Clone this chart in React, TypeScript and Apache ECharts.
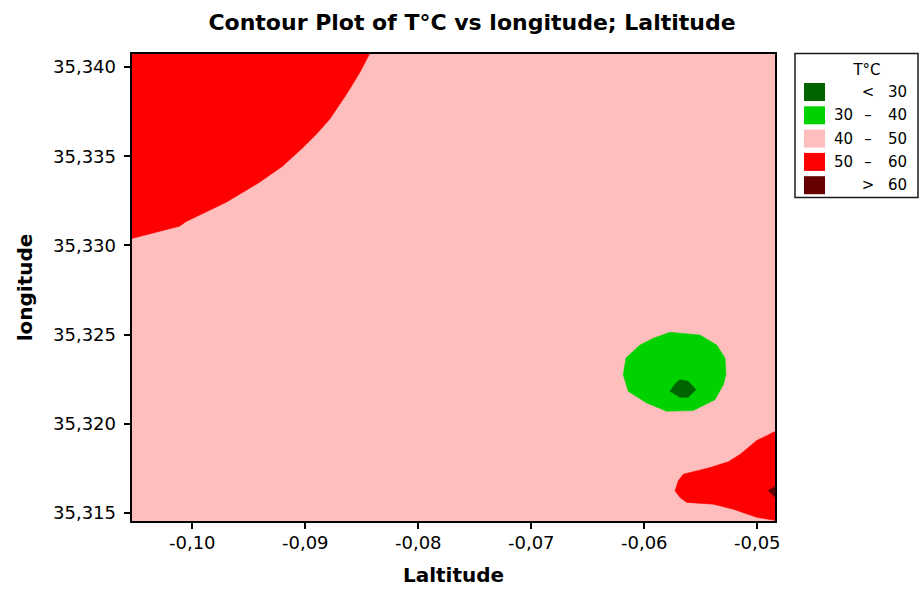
import React, { useEffect, useRef } from "react";
import * as echarts from "echarts";

// Axis extents (data units)
const xRange = [-0.10542, -0.04834];
const yRange = [35.31448, 35.34078];
const xTicks = [-0.1, -0.09, -0.08, -0.07, -0.06, -0.05];
const yTicks = [35.315, 35.32, 35.325, 35.33, 35.335, 35.34];

// Contour level colours and legend labels
const levelColors = ["#006400", "#00d200", "#ffbebe", "#ff0000", "#660000"];
const levelLabels = [
  ["", "<", "30"],
  ["30", "–", "40"],
  ["40", "–", "50"],
  ["50", "–", "60"],
  ["", ">", "60"],
];

// Contour regions: [Laltitude, longitude]
const redTopLeft = [
  [-0.1060, 35.3415],
  [-0.1060, 35.33027],
  [-0.10112, 35.33107],
  [-0.10053, 35.33133],
  [-0.09699, 35.33241],
  [-0.09404, 35.33353],
  [-0.09198, 35.33445],
  [-0.0902, 35.33548],
  [-0.08902, 35.33622],
  [-0.08784, 35.33706],
  [-0.08636, 35.33845],
  [-0.08518, 35.33967],
  [-0.0843, 35.34074],
  [-0.0840, 35.3415],
];
const greenBlob = [
  [-0.05773, 35.32512],
  [-0.05507, 35.32497],
  [-0.05359, 35.32441],
  [-0.05285, 35.32367],
  [-0.05277, 35.32274],
  [-0.053, 35.32218],
  [-0.05374, 35.32134],
  [-0.05566, 35.32073],
  [-0.05802, 35.32069],
  [-0.05979, 35.32116],
  [-0.06142, 35.32181],
  [-0.06186, 35.32274],
  [-0.06162, 35.32367],
  [-0.06038, 35.32441],
  [-0.0592, 35.32478],
];
const darkGreenBlob = [
  [-0.05684, 35.32246],
  [-0.05611, 35.32237],
  [-0.05542, 35.3219],
  [-0.05611, 35.32147],
  [-0.05684, 35.32147],
  [-0.05773, 35.32181],
  [-0.05728, 35.32222],
];
const redBottomRight = [
  [-0.0478, 35.31975],
  [-0.05005, 35.31905],
  [-0.05153, 35.31827],
  [-0.05256, 35.31786],
  [-0.05418, 35.31753],
  [-0.05655, 35.31716],
  [-0.05699, 35.31679],
  [-0.05728, 35.31623],
  [-0.05684, 35.31586],
  [-0.05625, 35.31558],
  [-0.05389, 35.31548],
  [-0.05212, 35.3152],
  [-0.05005, 35.31474],
  [-0.0478, 35.31450],
];
const darkRedBlob = [
  [-0.0478, 35.31679],
  [-0.04902, 35.31623],
  [-0.0478, 35.31548],
];

const FONT = "DejaVu Sans";

function regionSeries(points: number[][], color: string, z: number) {
  return {
    type: "custom",
    coordinateSystem: "cartesian2d",
    xAxisIndex: 0,
    yAxisIndex: 0,
    clip: true,
    silent: true,
    z,
    data: points,
    renderItem: (params: any, api: any) => {
      if (params.dataIndex !== 0) return null;
      const pts = points.map((p) => api.coord(p));
      return {
        type: "polygon",
        shape: { points: pts },
        style: { fill: color, stroke: color, lineWidth: 0.5 },
      };
    },
  };
}

export default function App() {
  const ref = useRef<HTMLDivElement>(null);
  useEffect(() => {
    if (!ref.current) return;
    const chart = echarts.init(ref.current, null, { renderer: "svg" });
    const gridLeft = 131;
    const gridRight = 776;
    const gridTop = 53;
    const gridBottom = 525;

    const legendGraphics: any[] = [];
    legendGraphics.push({
      type: "rect",
      shape: { x: 795, y: 53.5, width: 123, height: 144 },
      style: { fill: "#fff", stroke: "#1a1a1a", lineWidth: 1.5 },
    });
    legendGraphics.push({
      type: "text",
      x: 867,
      y: 70,
      style: {
        text: "T°C",
        fontFamily: FONT,
        fontSize: 15,
        fill: "#000",
        align: "center",
        verticalAlign: "middle",
      },
    });
    const rowY = [92, 115.3, 138.6, 161.9, 185.2];
    levelLabels.forEach((lab, i) => {
      legendGraphics.push({
        type: "rect",
        shape: { x: 804, y: rowY[i] - 9, width: 21, height: 18 },
        style: { fill: levelColors[i] },
      });
      const parts = [
        { t: lab[0], x: 853, a: "right" },
        { t: lab[1], x: 868, a: "center" },
        { t: lab[2], x: 907, a: "right" },
      ];
      parts.forEach((p) => {
        if (!p.t) return;
        legendGraphics.push({
          type: "text",
          x: p.x,
          y: rowY[i],
          style: {
            text: p.t,
            fontFamily: FONT,
            fontSize: 15,
            fill: "#000",
            align: p.a,
            verticalAlign: "middle",
          },
        });
      });
    });

    const option: any = {
      animation: false,
      backgroundColor: "#fff",
      title: {
        text: "Contour Plot of T°C vs longitude; Laltitude",
        left: 467,
        top: 6,
        textAlign: "center",
        textStyle: {
          fontFamily: FONT,
          fontWeight: "bold",
          fontSize: 22,
          color: "#000",
        },
      },
      grid: {
        left: gridLeft,
        top: gridTop,
        right: 923 - gridRight,
        bottom: 590 - gridBottom,
        show: true,
        backgroundColor: levelColors[2],
        borderWidth: 0,
      },
      xAxis: [
        {
          type: "value",
          min: xRange[0],
          max: xRange[1],
          position: "bottom",
          z: 10,
          splitLine: { show: false },
          axisLine: { show: true, lineStyle: { color: "#000", width: 2 } },
          axisTick: {
            show: true,
            length: 7,
            customValues: xTicks,
            lineStyle: { color: "#000", width: 2 },
          },
          axisLabel: {
            customValues: xTicks,
            margin: 11,
            fontFamily: FONT,
            fontSize: 18,
            color: "#000",
            formatter: (v: number) => v.toFixed(2).replace(".", ","),
          },
          name: "Laltitude",
          nameLocation: "middle",
          nameGap: 43,
          nameTextStyle: {
            fontFamily: FONT,
            fontWeight: "bold",
            fontSize: 20,
            color: "#000",
          },
        },
        {
          type: "value",
          min: xRange[0],
          max: xRange[1],
          position: "top",
          z: 10,
          splitLine: { show: false },
          axisLine: { show: true, lineStyle: { color: "#000", width: 2 } },
          axisTick: { show: false },
          axisLabel: { show: false },
        },
      ],
      yAxis: [
        {
          type: "value",
          min: yRange[0],
          max: yRange[1],
          position: "left",
          z: 10,
          splitLine: { show: false },
          axisLine: { show: true, lineStyle: { color: "#000", width: 2 } },
          axisTick: {
            show: true,
            length: 7,
            customValues: yTicks,
            lineStyle: { color: "#000", width: 2 },
          },
          axisLabel: {
            customValues: yTicks,
            margin: 15,
            fontFamily: FONT,
            fontSize: 18,
            color: "#000",
            formatter: (v: number) => v.toFixed(3).replace(".", ","),
          },
          name: "longitude",
          nameLocation: "middle",
          nameGap: 96,
          nameTextStyle: {
            fontFamily: FONT,
            fontWeight: "bold",
            fontSize: 20,
            color: "#000",
          },
        },
        {
          type: "value",
          min: yRange[0],
          max: yRange[1],
          position: "right",
          z: 10,
          splitLine: { show: false },
          axisLine: { show: true, lineStyle: { color: "#000", width: 2 } },
          axisTick: { show: false },
          axisLabel: { show: false },
        },
      ],
      series: [
        regionSeries(redTopLeft, levelColors[3], 2),
        regionSeries(redBottomRight, levelColors[3], 2),
        regionSeries(greenBlob, levelColors[1], 3),
        regionSeries(darkGreenBlob, levelColors[0], 4),
        regionSeries(darkRedBlob, levelColors[4], 4),
      ],
      graphic: legendGraphics,
    };
    chart.setOption(option);
    return () => chart.dispose();
  }, []);
  return (
    <div
      ref={ref}
      style={{ position: "fixed", left: 0, top: 0, width: 923, height: 590 }}
    />
  );
}
